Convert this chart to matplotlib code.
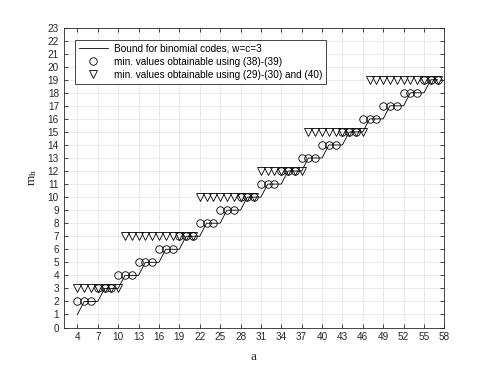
import numpy as np
import matplotlib
matplotlib.use('Agg')
from matplotlib import pyplot as plt

plt.rcParams['font.family'] = ['Liberation Sans', 'DejaVu Sans']

# code length a
a = np.arange(4, 58)

# bound for binomial codes, w=c=3
bound = [1, 2, 2, 2, 3, 3, 3, 4, 4, 4, 5, 5, 5, 6, 6, 6, 7, 7, 7, 8, 8, 8,
         9, 9, 9, 10, 10, 10, 11, 11, 11, 12, 12, 12, 13, 13, 13, 14, 14, 14,
         15, 15, 15, 16, 16, 16, 17, 17, 17, 18, 18, 18, 19, 19]

# min. values obtainable using (38)-(39)
circ = [2, 2, 2, 3, 3, 3, 4, 4, 4, 5, 5, 5, 6, 6, 6, 7, 7, 7, 8, 8, 8,
        9, 9, 9, 10, 10, 10, 11, 11, 11, 12, 12, 12, 13, 13, 13, 14, 14, 14,
        15, 15, 15, 16, 16, 16, 17, 17, 17, 18, 18, 18, 19, 19, 19]

# min. values obtainable using (29)-(30) and (40)
tri = [3, 3, 3, 3, 3, 3, 3,
       7, 7, 7, 7, 7, 7, 7, 7, 7, 7, 7,
       10, 10, 10, 10, 10, 10, 10, 10, 10,
       12, 12, 12, 12, 12, 12, 12,
       15, 15, 15, 15, 15, 15, 15, 15, 15,
       19, 19, 19, 19, 19, 19, 19, 19, 19, 19, 19]

fig = plt.figure(figsize=(4.91, 3.68), dpi=100)
ax = fig.add_axes([0.13, 0.11, 0.775, 0.815])

ax.plot(a, bound, color='k', lw=0.6, label='Bound for binomial codes, w=c=3')
ax.plot(a, circ, 'o', mfc='none', mec='k', mew=0.6, ms=5.4, ls='none',
        label='min. values obtainable using (38)-(39)')
ax.plot(a, tri, 'v', mfc='none', mec='k', mew=0.6, ms=5.8, ls='none',
        label='min. values obtainable using (29)-(30) and (40)')

ax.set_xlim(2, 58)
ax.set_ylim(0, 23)
ax.set_xticks(np.arange(4, 59, 3))
ax.set_yticks(np.arange(0, 24, 1))
ax.grid(True, color='#e6e6e6', lw=0.6)
ax.set_axisbelow(True)
ax.tick_params(direction='in', top=True, right=True, length=3, width=0.6,
               labelsize=7.2, colors='#262626', pad=3.5)
for s in ax.spines.values():
    s.set_color('#262626')
    s.set_linewidth(0.6)

ax.set_xlabel(r'$\mathregular{a}$', fontfamily='Liberation Serif', fontsize=9.5,
              color='#262626', labelpad=6)
ax.set_ylabel(r'$\mathregular{m_h}$', fontfamily='Liberation Serif', fontsize=9.5,
              color='#262626', labelpad=6)

leg = ax.legend(loc='upper left', bbox_to_anchor=(0.029, 0.959), fontsize=7.2,
                frameon=True, fancybox=False, edgecolor='#262626', framealpha=1,
                borderaxespad=0, handlelength=2.9, handletextpad=0.6,
                borderpad=0.4, labelspacing=0.3)
leg.get_frame().set_linewidth(0.6)

plt.savefig('out.png', dpi=100)
